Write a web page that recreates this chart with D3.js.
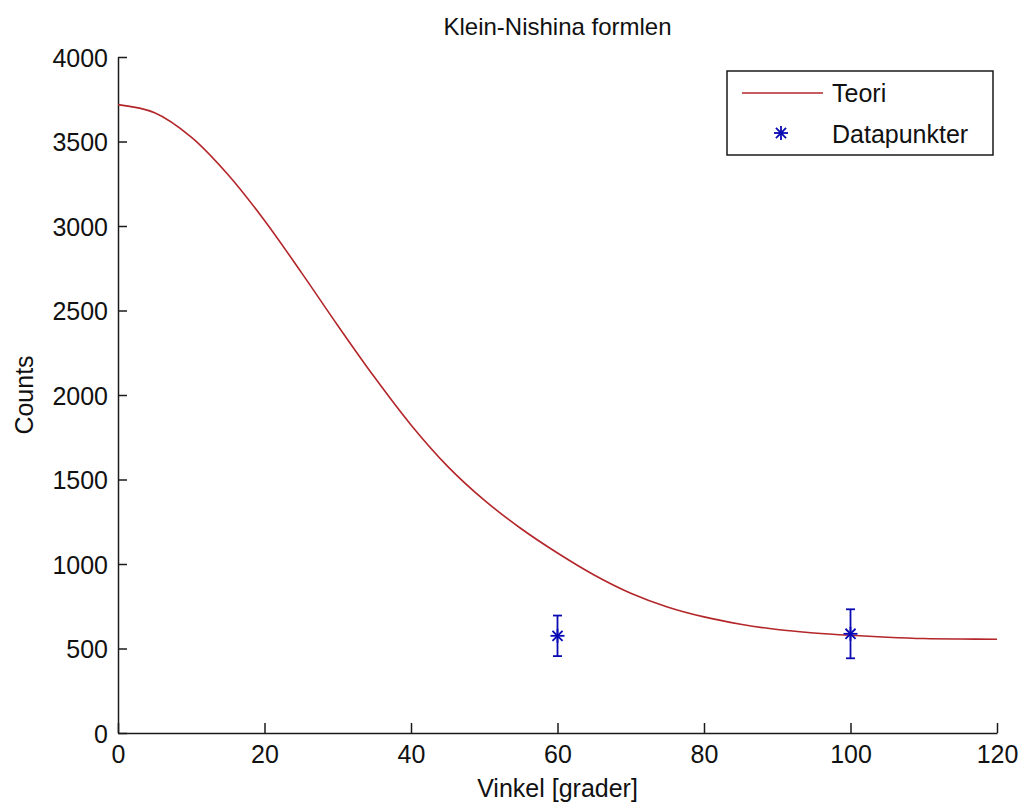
<!DOCTYPE html>
<html>
<head>
<meta charset="utf-8">
<script src="https://cdn.jsdelivr.net/npm/d3@7"></script>
<style>
  html, body { margin: 0; padding: 0; background: #fff; }
  svg text { font-family: "Liberation Sans", Arial, sans-serif; fill: #111; }
</style>
</head>
<body>
<svg id="chart" width="1022" height="807"></svg>
<script>
// Theoretical Klein-Nishina curve (counts vs scattering angle in degrees)
const theoryAngles = [0, 5, 10, 15, 20, 25, 30, 35, 40, 45, 50, 55, 60,
                      65, 70, 75, 80, 85, 90, 95, 100, 105, 110, 115, 120];
const theoryCounts = [3718, 3670, 3526, 3305, 3033, 2727, 2411, 2106, 1823, 1578, 1378, 1210, 1065,
                      935, 827, 746, 687, 644, 612, 592, 578, 567, 559, 556, 555];

// Measured points with uncertainty
const dataAngles = [60, 100];
const dataCounts = [575, 587];
const dataErrors = [120, 145];

const xTicks = [0, 20, 40, 60, 80, 100, 120];
const yTicks = [0, 500, 1000, 1500, 2000, 2500, 3000, 3500, 4000];

const titleText = "Klein-Nishina formlen";
const xLabel = "Vinkel [grader]";
const yLabel = "Counts";
const legendLabels = ["Teori", "Datapunkter"];

const lineColor = "#b3262a";
const pointColor = "#0a0ab4";

const svg = d3.select("#chart");
const plotLeft = 118, plotRight = 997, plotTop = 57, plotBottom = 733;

const x = d3.scaleLinear().domain([0, 120]).range([plotLeft, plotRight]);
const y = d3.scaleLinear().domain([0, 4000]).range([plotBottom, plotTop]);

// Axes with inward ticks, plain integer labels
const xAxis = d3.axisBottom(x).tickValues(xTicks).tickFormat(d3.format("d"))
  .tickSizeInner(-10).tickSizeOuter(0).tickPadding(0);
const yAxis = d3.axisLeft(y).tickValues(yTicks).tickFormat(d3.format("d"))
  .tickSizeInner(-9).tickSizeOuter(0).tickPadding(0);

const gx = svg.append("g").attr("transform", `translate(0,${plotBottom})`).call(xAxis);
const gy = svg.append("g").attr("transform", `translate(${plotLeft},0)`).call(yAxis);

[gx, gy].forEach(g => {
  g.select(".domain").attr("stroke", "#1a1a1a").attr("stroke-width", 1.5);
  g.selectAll(".tick line").attr("stroke", "#1a1a1a").attr("stroke-width", 1.5);
  g.selectAll(".tick text").attr("font-size", 25).attr("fill", "#111")
    .style("font-family", '"Liberation Sans", Arial, sans-serif');
});
gx.selectAll(".tick text").attr("y", 12).attr("dy", "0.71em");
gy.selectAll(".tick text").attr("x", -10).attr("dy", "0.36em");

// Theory curve
const line = d3.line()
  .x((d, i) => x(theoryAngles[i]))
  .y(d => y(d))
  .curve(d3.curveCatmullRom);

svg.append("path")
  .datum(theoryCounts)
  .attr("d", line)
  .attr("fill", "none")
  .attr("stroke", lineColor)
  .attr("stroke-width", 1.6);

// Star marker (MATLAB style '*')
function star(g, cx, cy, r) {
  const d = r * 0.72;
  const segs = [[-r, 0, r, 0], [0, -r, 0, r], [-d, -d, d, d], [-d, d, d, -d]];
  segs.forEach(s => {
    g.append("line")
      .attr("x1", cx + s[0]).attr("y1", cy + s[1])
      .attr("x2", cx + s[2]).attr("y2", cy + s[3])
      .attr("stroke", pointColor).attr("stroke-width", 1.8);
  });
}

// Error bars and points
const pts = svg.append("g");
dataAngles.forEach((a, i) => {
  const cx = x(a);
  const yHi = y(dataCounts[i] + dataErrors[i]);
  const yLo = y(dataCounts[i] - dataErrors[i]);
  pts.append("line").attr("x1", cx).attr("x2", cx).attr("y1", yHi).attr("y2", yLo)
    .attr("stroke", pointColor).attr("stroke-width", 1.8);
  [yHi, yLo].forEach(yy => {
    pts.append("line").attr("x1", cx - 4.5).attr("x2", cx + 4.5).attr("y1", yy).attr("y2", yy)
      .attr("stroke", pointColor).attr("stroke-width", 1.8);
  });
  star(pts, cx, y(dataCounts[i]), 7);
});

// Title and axis labels
svg.append("text").attr("x", (plotLeft + plotRight) / 2).attr("y", 35)
  .attr("text-anchor", "middle").attr("font-size", 24).text(titleText);
svg.append("text").attr("x", (plotLeft + plotRight) / 2).attr("y", 797)
  .attr("text-anchor", "middle").attr("font-size", 25).text(xLabel);
svg.append("text").attr("transform", `translate(33,${(plotTop + plotBottom) / 2}) rotate(-90)`)
  .attr("text-anchor", "middle").attr("font-size", 25).text(yLabel);

// Legend
const lg = svg.append("g");
lg.append("rect").attr("x", 727).attr("y", 71).attr("width", 266).attr("height", 84)
  .attr("fill", "#fff").attr("stroke", "#1a1a1a").attr("stroke-width", 1.5);
lg.append("line").attr("x1", 742).attr("x2", 823).attr("y1", 93).attr("y2", 93)
  .attr("stroke", lineColor).attr("stroke-width", 1.6);
lg.append("text").attr("x", 832).attr("y", 102).attr("font-size", 25).text(legendLabels[0]);
star(lg, 781, 133, 7);
lg.append("text").attr("x", 832).attr("y", 143).attr("font-size", 25).text(legendLabels[1]);
</script>
</body>
</html>
